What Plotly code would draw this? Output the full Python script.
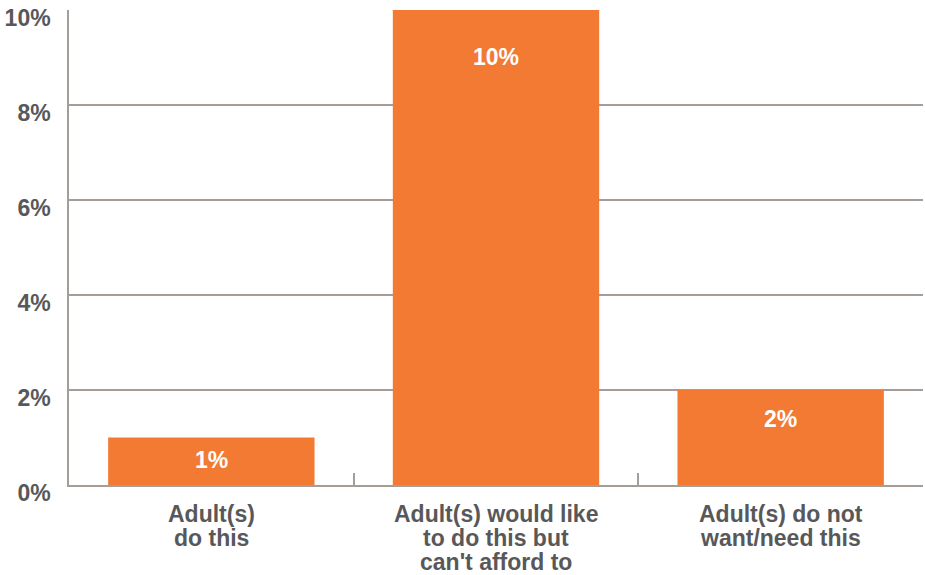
import plotly.graph_objects as go

categories = ["Adult(s)<br>do this", "Adult(s) would like<br>to do this but<br>can't afford to", "Adult(s) do not<br>want/need this"]
values = [1, 10, 2]
value_labels = ["1%", "10%", "2%"]
y_ticks = [0, 2, 4, 6, 8, 10]
y_tick_labels = ["0%", "2%", "4%", "6%", "8%", "10%"]

label_offsets = [-22, -47, -29]

BAR = "#F27A33"
TXT = "#58585A"
LINE = "#A59E98"
FONT = "Liberation Sans"
FS = 23

fig = go.Figure(go.Bar(x=categories, y=values, marker=dict(color=BAR, line=dict(width=0)),
                       hoverinfo="skip"))

for c, v, t, o in zip(categories, values, value_labels, label_offsets):
    fig.add_annotation(x=c, y=v, text="<b>%s</b>" % t, showarrow=False, yshift=o,
                       font=dict(family=FONT, size=FS, color="white"))

# category labels drawn line by line (tight leading as in the reference)
for c in categories:
    for i, line in enumerate(c.split("<br>")):
        fig.add_annotation(x=c, y=0, text="<b>%s</b>" % line, showarrow=False,
                           yanchor="middle", yshift=-(29 + 24 * i),
                           font=dict(family=FONT, size=FS, color=TXT))

fig.update_layout(
    width=925, height=575,
    margin=dict(l=69, r=2, t=10, b=90),
    plot_bgcolor="white", paper_bgcolor="white",
    bargap=0.275, showlegend=False,
    font=dict(family=FONT, size=FS, color=TXT),
)
fig.update_xaxes(
    type="category", showline=True, linecolor=LINE, linewidth=2,
    ticks="inside", tickson="boundaries", ticklen=12, tickcolor=LINE, tickwidth=1.5,
    showticklabels=False, automargin=False,
    showgrid=False,
)
fig.update_yaxes(
    range=[0, 10], tickvals=y_ticks, ticktext=y_tick_labels,
    showline=True, linecolor=LINE, linewidth=1.5, automargin=False,
    showgrid=True, gridcolor=LINE, gridwidth=1.5, zeroline=False,
    ticks="", ticklabelstandoff=12, ticklabelshift=8,
    tickfont=dict(family=FONT, size=FS, color=TXT, weight="bold"),
)

fig.write_html("out.html")
